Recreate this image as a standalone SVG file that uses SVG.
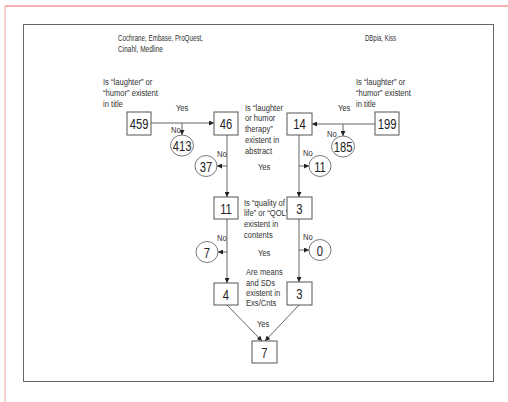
<svg xmlns="http://www.w3.org/2000/svg" width="508" height="402" viewBox="0 0 508 402">
<defs>
<marker id="ah" viewBox="0 0 6 6" refX="6" refY="3" markerWidth="5" markerHeight="5" orient="auto" markerUnits="userSpaceOnUse">
<path d="M0,0 L6,3 L0,6 z" fill="#222"/>
</marker>
<style>
.lbl{font-family:"Liberation Sans",Arial,sans-serif;font-size:9.5px;fill:#333}
.num{font-family:"Liberation Sans",Arial,sans-serif;font-size:15px;fill:#222;text-anchor:middle}
.box{fill:#fff;stroke:#555;stroke-width:1}
.circ{fill:#fff;stroke:#555;stroke-width:0.8}
.arr{stroke:#555;stroke-width:0.9;fill:none;marker-end:url(#ah)}
</style>
</defs>
<rect width="508" height="402" fill="#fff"/>
<line x1="5" y1="6" x2="508" y2="6" stroke="#f06060" stroke-width="1"/>
<line x1="5" y1="6" x2="5" y2="402" stroke="#f4a0a0" stroke-width="1"/>
<rect x="23.5" y="24.5" width="470" height="357" fill="none" stroke="#666" stroke-width="1"/>

<g id="source-labels">
<text class="lbl" x="118" y="41" textLength="85" lengthAdjust="spacingAndGlyphs">Cochrane, Embase, ProQuest,</text>
<text class="lbl" x="118" y="52" textLength="45" lengthAdjust="spacingAndGlyphs">Cinahl, Medline</text>
<text class="lbl" x="365" y="41" textLength="31" lengthAdjust="spacingAndGlyphs">DBpia, Kiss</text>
</g>

<g id="connectors">
<line class="arr" x1="151" y1="123" x2="214" y2="123"/>
<line class="arr" x1="182" y1="123" x2="182" y2="135"/>
<line class="arr" x1="375" y1="124" x2="312" y2="124"/>
<line class="arr" x1="343" y1="124" x2="343" y2="136"/>
<line class="arr" x1="227" y1="135" x2="227" y2="197"/>
<line class="arr" x1="227" y1="166" x2="217" y2="166"/>
<line class="arr" x1="299" y1="135" x2="299" y2="197"/>
<line class="arr" x1="299" y1="166" x2="309" y2="166"/>
<line class="arr" x1="227" y1="219" x2="227" y2="283"/>
<line class="arr" x1="227" y1="252" x2="218" y2="252"/>
<line class="arr" x1="299" y1="219" x2="299" y2="282"/>
<line class="arr" x1="299" y1="250" x2="309" y2="250"/>
<line class="arr" x1="227" y1="305" x2="262" y2="341"/>
<line class="arr" x1="299" y1="305" x2="265" y2="341"/>
</g>

<g id="connector-labels">
<text class="lbl" transform="translate(176,111) scale(0.8 1)">Yes</text>
<text class="lbl" transform="translate(171,133) scale(0.8 1)">No</text>
<text class="lbl" transform="translate(338,111) scale(0.8 1)">Yes</text>
<text class="lbl" transform="translate(327,137) scale(0.8 1)">No</text>
<text class="lbl" transform="translate(217,157) scale(0.8 1)">No</text>
<text class="lbl" transform="translate(258,170) scale(0.8 1)">Yes</text>
<text class="lbl" transform="translate(303,156) scale(0.8 1)">No</text>
<text class="lbl" transform="translate(217,241) scale(0.8 1)">No</text>
<text class="lbl" transform="translate(258,256) scale(0.8 1)">Yes</text>
<text class="lbl" transform="translate(303,240) scale(0.8 1)">No</text>
<text class="lbl" transform="translate(257,327) scale(0.8 1)">Yes</text>
</g>

<g id="q-title-left">
<text class="lbl" transform="translate(103,85) scale(0.8 1)">Is “laughter” or</text>
<text class="lbl" transform="translate(103,96) scale(0.8 1)">“humor” existent</text>
<text class="lbl" transform="translate(103,107) scale(0.8 1)">in title</text>
</g>
<g id="q-title-right">
<text class="lbl" transform="translate(356,85) scale(0.8 1)">Is “laughter” or</text>
<text class="lbl" transform="translate(356,96) scale(0.8 1)">“humor” existent</text>
<text class="lbl" transform="translate(356,107) scale(0.8 1)">in title</text>
</g>
<g id="q-abstract">
<text class="lbl" transform="translate(245,111) scale(0.8 1)">Is “laughter</text>
<text class="lbl" transform="translate(245,121) scale(0.8 1)">or humor</text>
<text class="lbl" transform="translate(245,132) scale(0.8 1)">therapy”</text>
<text class="lbl" transform="translate(245,143) scale(0.8 1)">existent in</text>
<text class="lbl" transform="translate(245,154) scale(0.8 1)">abstract</text>
</g>
<g id="q-qol">
<text class="lbl" transform="translate(244,206) scale(0.8 1)">Is “quality of</text>
<text class="lbl" transform="translate(244,216) scale(0.8 1)">life” or “QOL”</text>
<text class="lbl" transform="translate(244,227) scale(0.8 1)">existent in</text>
<text class="lbl" transform="translate(244,238) scale(0.8 1)">contents</text>
</g>
<g id="q-means">
<text class="lbl" transform="translate(246,275) scale(0.8 1)">Are means</text>
<text class="lbl" transform="translate(246,286) scale(0.8 1)">and SDs</text>
<text class="lbl" transform="translate(246,296) scale(0.8 1)">existent in</text>
<text class="lbl" transform="translate(246,306) scale(0.8 1)">Exs/Cnts</text>
</g>

<g id="n459"><rect class="box" x="127" y="112" width="24" height="23"/><text class="num" transform="translate(139,129) scale(0.75 1)">459</text></g>
<g id="n46"><rect class="box" x="214" y="112" width="24" height="23"/><text class="num" transform="translate(226,129) scale(0.75 1)">46</text></g>
<g id="n14"><rect class="box" x="287" y="113" width="25" height="22"/><text class="num" transform="translate(299.5,129) scale(0.75 1)">14</text></g>
<g id="n199"><rect class="box" x="375" y="112" width="24" height="23"/><text class="num" transform="translate(387,129) scale(0.75 1)">199</text></g>
<g id="n413"><ellipse class="circ" cx="182" cy="145.5" rx="11.5" ry="10.5"/><text class="num" transform="translate(182,151) scale(0.75 1)">413</text></g>
<g id="n185"><ellipse class="circ" cx="343" cy="146.5" rx="11.5" ry="10.5"/><text class="num" transform="translate(343,152) scale(0.75 1)">185</text></g>
<g id="n37"><ellipse class="circ" cx="206" cy="166" rx="11" ry="10.5"/><text class="num" transform="translate(206,171.5) scale(0.75 1)">37</text></g>
<g id="n11c"><ellipse class="circ" cx="320" cy="166" rx="11" ry="10.5"/><text class="num" transform="translate(320,171.5) scale(0.75 1)">11</text></g>
<g id="n11"><rect class="box" x="214" y="197" width="24" height="22"/><text class="num" transform="translate(226,213.5) scale(0.75 1)">11</text></g>
<g id="n3a"><rect class="box" x="287" y="197" width="25" height="22"/><text class="num" transform="translate(299.5,213.5) scale(0.75 1)">3</text></g>
<g id="n7c"><ellipse class="circ" cx="207" cy="252" rx="11" ry="10.5"/><text class="num" transform="translate(207,257.5) scale(0.75 1)">7</text></g>
<g id="n0"><ellipse class="circ" cx="320" cy="250" rx="11" ry="10.5"/><text class="num" transform="translate(320,255.5) scale(0.75 1)">0</text></g>
<g id="n4"><rect class="box" x="214" y="283" width="24" height="22"/><text class="num" transform="translate(226,299.5) scale(0.75 1)">4</text></g>
<g id="n3b"><rect class="box" x="287" y="282" width="25" height="23"/><text class="num" transform="translate(299.5,299) scale(0.75 1)">3</text></g>
<g id="n7"><rect class="box" x="252" y="341" width="25" height="22"/><text class="num" transform="translate(264.5,357.5) scale(0.75 1)">7</text></g>
</svg>
